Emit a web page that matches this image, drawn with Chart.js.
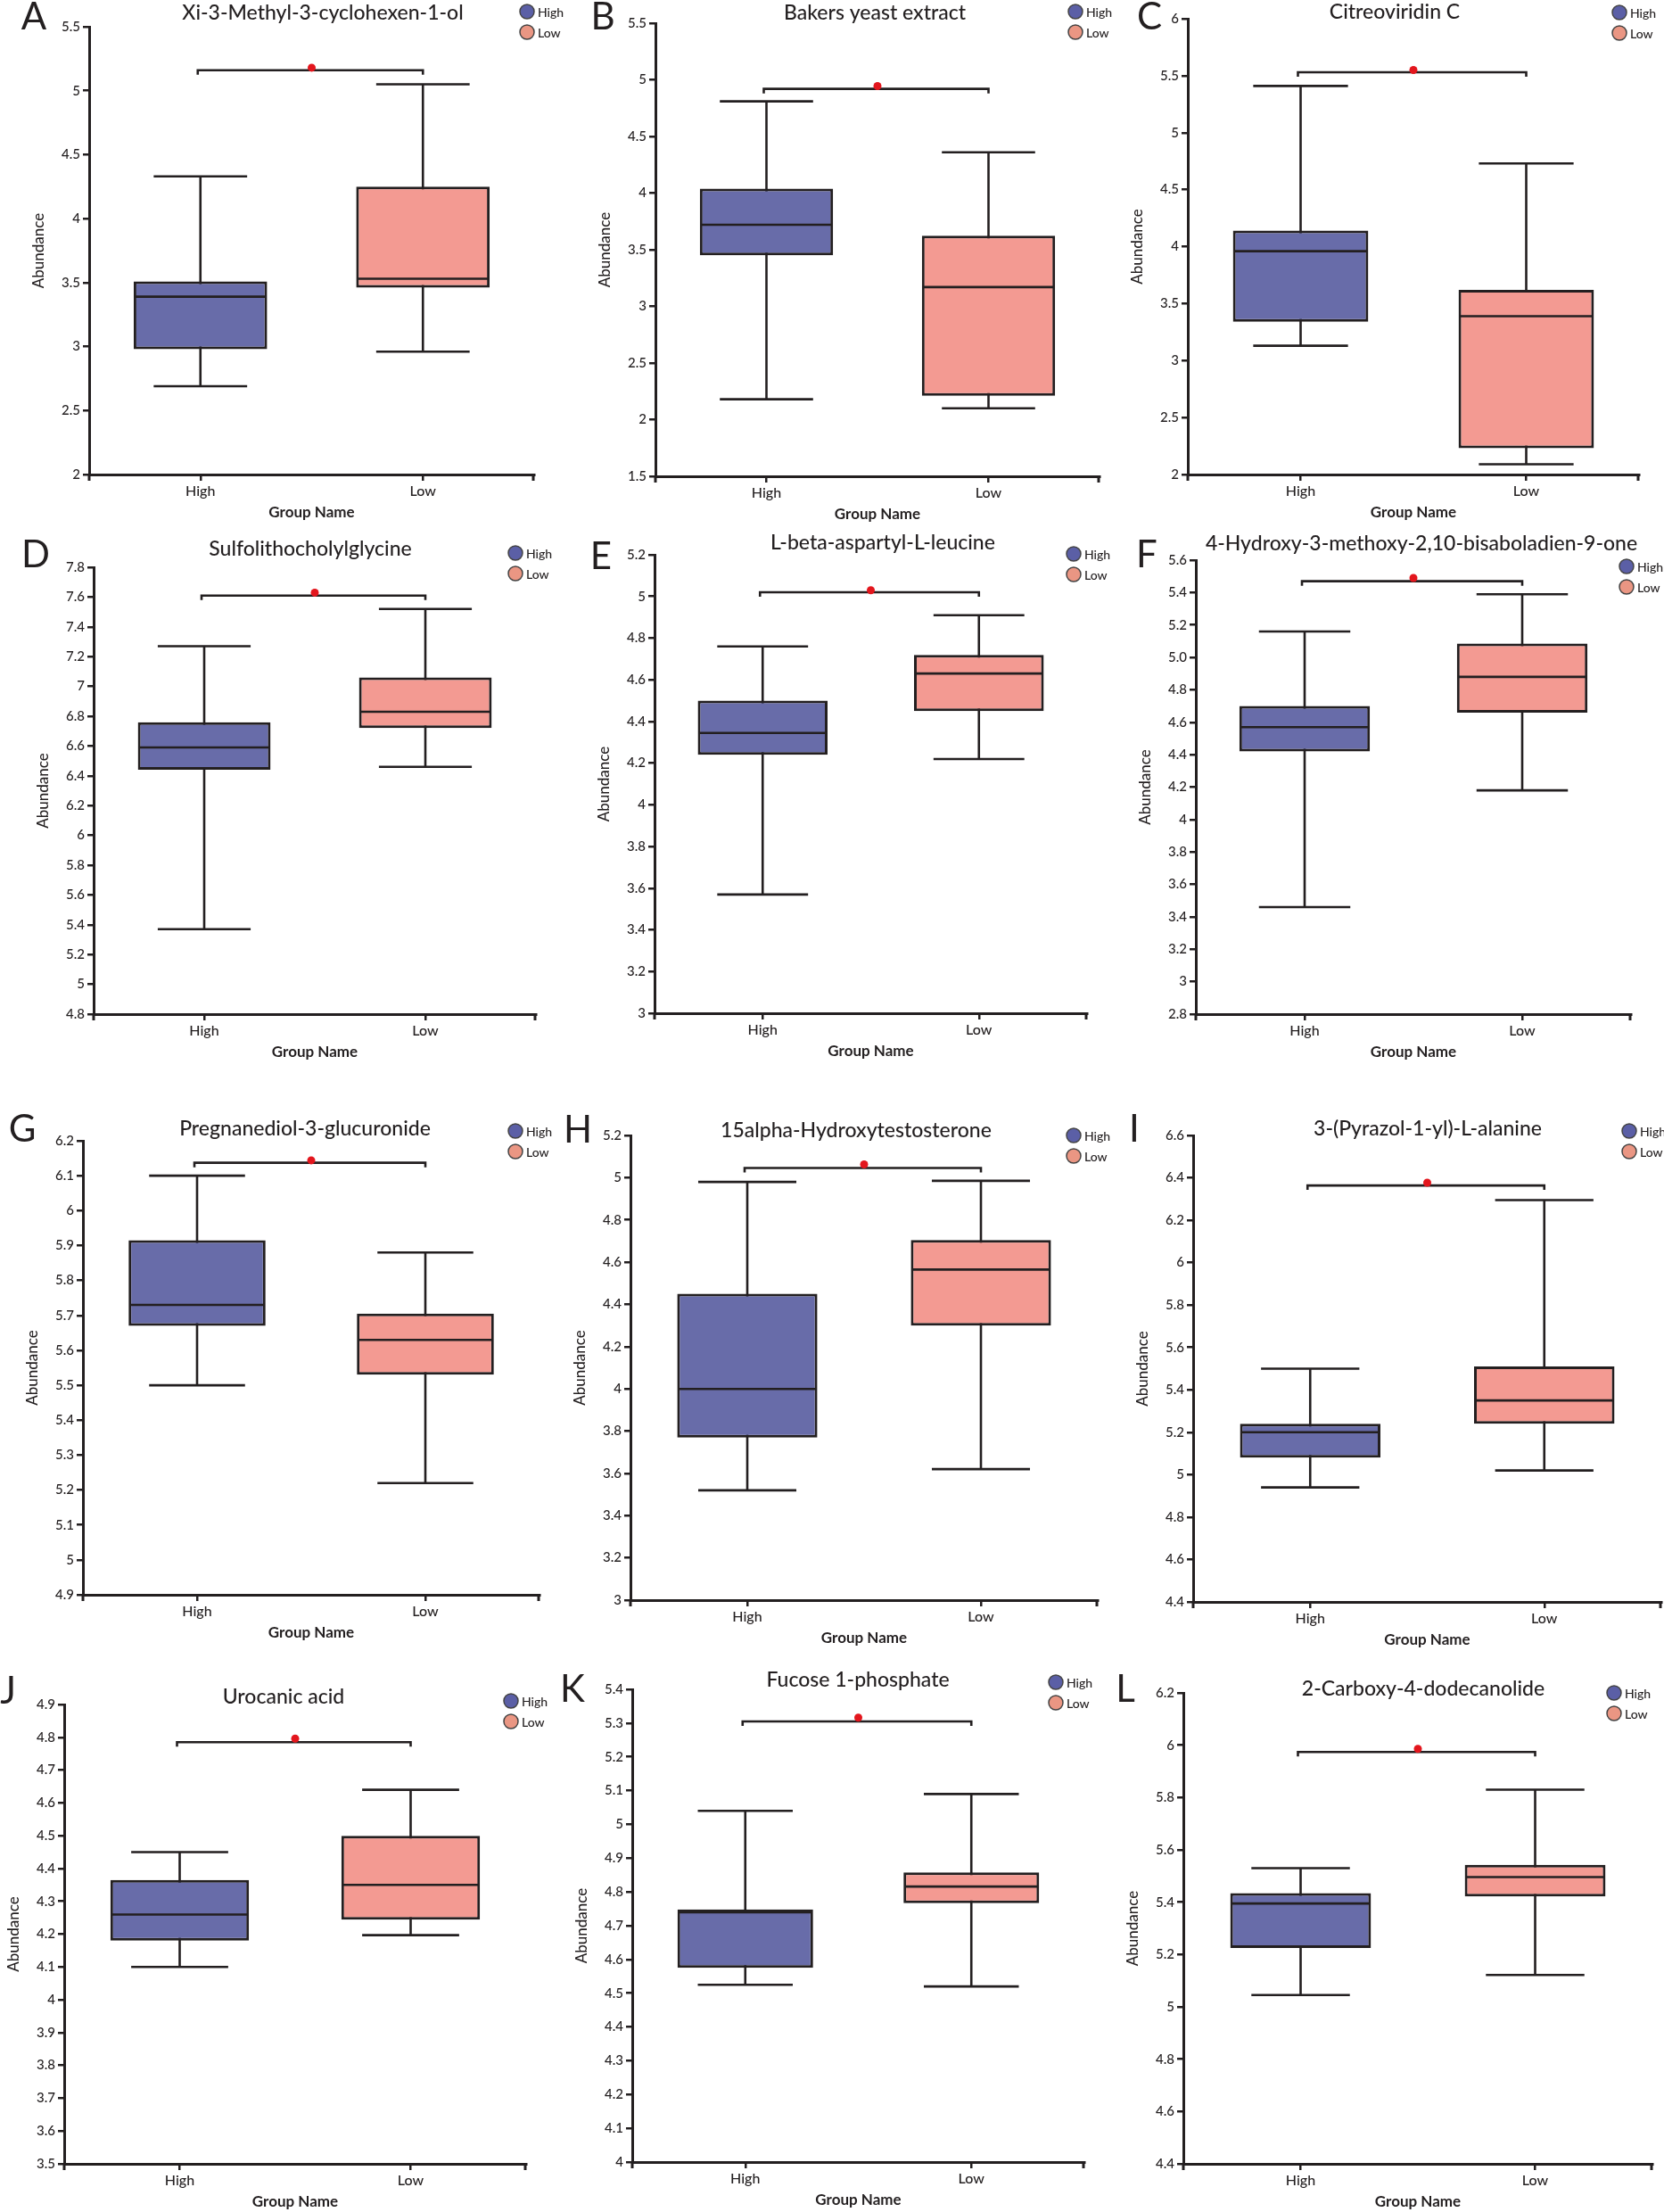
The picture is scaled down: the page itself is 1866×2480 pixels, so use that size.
<!DOCTYPE html>
<html>
<head>
<meta charset="utf-8">
<script src="https://cdn.jsdelivr.net/npm/chart.js@4.4.1/dist/chart.umd.min.js"></script>
<style>
  html, body { margin: 0; padding: 0; background: #fff; width: 1866px; height: 2480px; overflow: hidden; position: relative; }
  canvas { position: absolute; }
</style>
</head>
<body>
<script>
/* ---------- DATA ---------- */
const groups = ["High", "Low"];
const letters = ["A", "B", "C", "D", "E", "F", "G", "H", "I", "J", "K", "L"];
const titles = [
    "Xi-3-Methyl-3-cyclohexen-1-ol", "Bakers yeast extract", "Citreoviridin C",
    "Sulfolithocholylglycine", "L-beta-aspartyl-L-leucine", "4-Hydroxy-3-methoxy-2,10-bisaboladien-9-one",
    "Pregnanediol-3-glucuronide", "15alpha-Hydroxytestosterone", "3-(Pyrazol-1-yl)-L-alanine",
    "Urocanic acid", "Fucose 1-phosphate", "2-Carboxy-4-dodecanolide"
];

// y tick labels, bottom to top
const tickLabels = [
    ["2", "2.5", "3", "3.5", "4", "4.5", "5", "5.5"],
    ["1.5", "2", "2.5", "3", "3.5", "4", "4.5", "5", "5.5"],
    ["2", "2.5", "3", "3.5", "4", "4.5", "5", "5.5", "6"],
    ["4.8", "5", "5.2", "5.4", "5.6", "5.8", "6", "6.2", "6.4", "6.6", "6.8", "7", "7.2", "7.4", "7.6", "7.8"],
    ["3", "3.2", "3.4", "3.6", "3.8", "4", "4.2", "4.4", "4.6", "4.8", "5", "5.2"],
    ["2.8", "3", "3.2", "3.4", "3.6", "3.8", "4", "4.2", "4.4", "4.6", "4.8", "5.0", "5.2", "5.4", "5.6"],
    ["4.9", "5", "5.1", "5.2", "5.3", "5.4", "5.5", "5.6", "5.7", "5.8", "5.9", "6", "6.1", "6.2"],
    ["3", "3.2", "3.4", "3.6", "3.8", "4", "4.2", "4.4", "4.6", "4.8", "5", "5.2"],
    ["4.4", "4.6", "4.8", "5", "5.2", "5.4", "5.6", "5.8", "6", "6.2", "6.4", "6.6"],
    ["3.5", "3.6", "3.7", "3.8", "3.9", "4", "4.1", "4.2", "4.3", "4.4", "4.5", "4.6", "4.7", "4.8", "4.9"],
    ["4", "4.1", "4.2", "4.3", "4.4", "4.5", "4.6", "4.7", "4.8", "4.9", "5", "5.1", "5.2", "5.3", "5.4"],
    ["4.4", "4.6", "4.8", "5", "5.2", "5.4", "5.6", "5.8", "6", "6.2"]
];

// [min, q1, median, q3, max]
const highBox = [
    [2.69, 2.98, 3.39, 3.51, 4.33],
    [2.18, 3.45, 3.72, 4.04, 4.81],
    [3.13, 3.34, 3.96, 4.14, 5.41],
    [5.37, 6.44, 6.59, 6.76, 7.27],
    [3.57, 4.24, 4.345, 4.50, 4.76],
    [3.46, 4.42, 4.57, 4.70, 5.16],
    [5.50, 5.67, 5.73, 5.915, 6.10],
    [3.52, 3.77, 4.00, 4.45, 4.98],
    [4.94, 5.08, 5.20, 5.24, 5.50],
    [4.10, 4.18, 4.26, 4.365, 4.45],
    [4.525, 4.575, 4.74, 4.748, 5.04],
    [5.045, 5.225, 5.395, 5.435, 5.53]
];
const lowBox = [
    [2.96, 3.46, 3.53, 4.25, 5.05],
    [2.10, 2.21, 3.17, 3.625, 4.36],
    [2.09, 2.23, 3.39, 3.62, 4.73],
    [6.46, 6.72, 6.83, 7.06, 7.52],
    [4.22, 4.45, 4.63, 4.72, 4.91],
    [4.18, 4.66, 4.88, 5.085, 5.39],
    [5.22, 5.53, 5.63, 5.705, 5.88],
    [3.62, 4.30, 4.565, 4.705, 4.985],
    [5.02, 5.24, 5.35, 5.51, 6.295],
    [4.197, 4.244, 4.35, 4.50, 4.64],
    [4.52, 4.767, 4.816, 4.858, 5.09],
    [5.122, 5.422, 5.496, 5.543, 5.83]
];
const bracketY = [5.16, 4.92, 5.53, 7.61, 5.02, 5.47, 6.137, 5.046, 6.364, 4.785, 5.305, 5.974];
const starY    = [5.18, 4.945, 5.55, 7.63, 5.03, 5.49, 6.144, 5.063, 6.377, 4.796, 5.316, 5.986];

/* ---------- LAYOUT (page pixels) ---------- */
const axisL = [100, 735, 1332, 105, 734, 1341, 93, 707, 1338, 72, 709, 1327];
const axisR = [599, 1233, 1838, 601, 1219, 1829, 605, 1231, 1863, 590, 1216, 1853];
const axisT = [30, 26, 21, 636, 622, 628, 1279, 1273, 1273, 1911, 1894, 1898];
const axisB = [532, 534, 532, 1137, 1136, 1137, 1788, 1794, 1796, 2426, 2424, 2426];
const titleX = [362, 981, 1564, 348, 990, 1594, 342, 960, 1601, 318, 962, 1596];
const titleY = [15, 15, 14, 616, 609, 610, 1266, 1268, 1266, 1903, 1884, 1894];
const legendX = [591, 1206, 1816, 578, 1204, 1824, 578, 1204, 1827, 573, 1184, 1810];
const legendY = [13, 13, 14, 620, 621, 635, 1268, 1273, 1268, 1907, 1886, 1898];
const letterX = [38, 676, 1289, 40, 674, 1286, 25, 648, 1272, 9, 642, 1262];
const letterY = [17, 17, 17, 620, 622, 620, 1264, 1265, 1264, 1894, 1892, 1892];

const ML = 110, MR = 70, MT = 70, MB = 60;

/* ---------- STYLE ---------- */
const INK = "#231f20";
const HIGH_FILL = "#686ca9";
const LOW_FILL = "#f39a92";
const HIGH_DOT = "#5b5fa6";
const LOW_DOT = "#ea9683";
const FONT = "Lato, 'Open Sans', sans-serif";

const boxParts = {
    id: "boxParts",
    beforeDatasetsDraw(chart) {
        const i = chart.options.plugins.boxParts.i;
        const ctx = chart.ctx, x = chart.scales.x, y = chart.scales.y;
        const capHalf = (x.getPixelForValue(1) - x.getPixelForValue(0)) * 0.21;
        ctx.save();
        ctx.strokeStyle = INK;
        ctx.lineWidth = 2.6;
        [highBox[i], lowBox[i]].forEach((st, k) => {
            const cx = x.getPixelForValue(k);
            ctx.beginPath();
            ctx.moveTo(cx, y.getPixelForValue(st[0]));
            ctx.lineTo(cx, y.getPixelForValue(st[4]));
            ctx.moveTo(cx - capHalf, y.getPixelForValue(st[0]));
            ctx.lineTo(cx + capHalf, y.getPixelForValue(st[0]));
            ctx.moveTo(cx - capHalf, y.getPixelForValue(st[4]));
            ctx.lineTo(cx + capHalf, y.getPixelForValue(st[4]));
            ctx.stroke();
        });
        ctx.restore();
    },
    afterDatasetsDraw(chart) {
        const i = chart.options.plugins.boxParts.i;
        const ctx = chart.ctx, x = chart.scales.x, y = chart.scales.y;
        const bars = chart.getDatasetMeta(0).data;
        ctx.save();
        ctx.strokeStyle = INK;
        ctx.lineWidth = 2.6;
        [highBox[i], lowBox[i]].forEach((st, k) => {
            const cx = x.getPixelForValue(k), half = bars[k].width / 2 - 1;
            const my = y.getPixelForValue(st[2]);
            ctx.beginPath();
            ctx.moveTo(cx - half, my);
            ctx.lineTo(cx + half, my);
            ctx.stroke();
        });
        // significance bracket
        const by = y.getPixelForValue(bracketY[i]);
        const x0 = x.getPixelForValue(0) - 3, x1 = x.getPixelForValue(1);
        ctx.lineWidth = 2.6;
        ctx.beginPath();
        ctx.moveTo(x0, by + 5);
        ctx.lineTo(x0, by);
        ctx.lineTo(x1, by);
        ctx.lineTo(x1, by + 5);
        ctx.stroke();
        ctx.fillStyle = "#e3161d";
        ctx.beginPath();
        ctx.arc((x.getPixelForValue(0) + x1) / 2, y.getPixelForValue(starY[i]), 4.5, 0, Math.PI * 2);
        ctx.fill();
        ctx.restore();
    },
    afterDraw(chart) {
        const i = chart.options.plugins.boxParts.i;
        const ctx = chart.ctx, area = chart.chartArea;
        const ox = axisL[i] - ML, oy = axisT[i] - MT;
        ctx.save();
        ctx.fillStyle = INK;
        ctx.strokeStyle = INK;
        // end ticks of x axis
        ctx.lineWidth = 3;
        ctx.beginPath();
        ctx.moveTo(area.left, area.bottom);
        ctx.lineTo(area.left, area.bottom + 7);
        ctx.moveTo(area.right - 1, area.bottom);
        ctx.lineTo(area.right - 1, area.bottom + 7);
        ctx.stroke();
        // title
        ctx.textAlign = "center";
        ctx.textBaseline = "middle";
        ctx.font = "500 23px " + FONT;
        ctx.fillText(titles[i], titleX[i] - ox, titleY[i] - oy);
        // panel letter
        ctx.font = "42px " + FONT;
        ctx.fillText(letters[i], letterX[i] - ox, letterY[i] - oy + 2);
        // axis titles
        ctx.font = "bold 17px " + FONT;
        ctx.fillText("Group Name", (area.left + area.right) / 2, area.bottom + 43);
        ctx.save();
        ctx.translate(area.left - 56, (area.top + area.bottom) / 2);
        ctx.rotate(-Math.PI / 2);
        ctx.font = "500 17px " + FONT;
        ctx.fillText("Abundance", 0, 0);
        ctx.restore();
        // legend
        ctx.textAlign = "left";
        ctx.font = "500 14px " + FONT;
        [HIGH_DOT, LOW_DOT].forEach((col, k) => {
            const lx = legendX[i] - ox, ly = legendY[i] - oy + k * 23;
            ctx.beginPath();
            ctx.arc(lx, ly, 8, 0, Math.PI * 2);
            ctx.fillStyle = col;
            ctx.fill();
            ctx.lineWidth = 1.5;
            ctx.strokeStyle = "#444";
            ctx.stroke();
            ctx.fillStyle = INK;
            ctx.fillText(groups[k], lx + 12, ly + 1);
        });
        ctx.restore();
    }
};

for (let i = 0; i < titles.length; i++) {
    const W = axisR[i] - axisL[i] + ML + MR;
    const H = axisB[i] - axisT[i] + MT + MB;
    const c = document.createElement("canvas");
    c.width = W;
    c.height = H;
    c.style.left = (axisL[i] - ML) + "px";
    c.style.top = (axisT[i] - MT) + "px";
    c.style.width = W + "px";
    c.style.height = H + "px";
    document.body.appendChild(c);

    new Chart(c, {
        type: "bar",
        data: {
            labels: groups,
            datasets: [{
                data: [[highBox[i][1], highBox[i][3]], [lowBox[i][1], lowBox[i][3]]],
                backgroundColor: [HIGH_FILL, LOW_FILL],
                borderColor: INK,
                borderWidth: 3,
                borderSkipped: false,
                barPercentage: 0.6,
                categoryPercentage: 1
            }]
        },
        options: {
            responsive: false,
            animation: false,
            devicePixelRatio: 1,
            layout: { padding: { top: MT, right: MR, left: 0, bottom: 0 } },
            plugins: {
                legend: { display: false },
                tooltip: { enabled: false },
                boxParts: { i: i }
            },
            scales: {
                x: {
                    offset: true,
                    grid: { offset: false, drawOnChartArea: false, drawTicks: true, tickLength: 7, color: INK, lineWidth: 2.5 },
                    border: { color: INK, width: 3 },
                    ticks: { color: INK, font: { family: FONT, size: 16, weight: "500" }, padding: 2 },
                    afterFit: s => { s.height = MB; }
                },
                y: {
                    min: parseFloat(tickLabels[i][0]),
                    max: parseFloat(tickLabels[i][tickLabels[i].length - 1]),
                    afterBuildTicks: s => { s.ticks = tickLabels[i].map(t => ({ value: parseFloat(t) })); },
                    grid: { drawOnChartArea: false, drawTicks: true, tickLength: 7, color: INK, lineWidth: 2.5 },
                    border: { color: INK, width: 3 },
                    ticks: {
                        autoSkip: false,
                        color: INK,
                        font: { family: FONT, size: 15, weight: "500" },
                        padding: 3,
                        callback: (v, idx) => tickLabels[i][idx]
                    },
                    afterFit: s => { s.width = ML; }
                }
            }
        },
        plugins: [boxParts]
    });
}
</script>
</body>
</html>
